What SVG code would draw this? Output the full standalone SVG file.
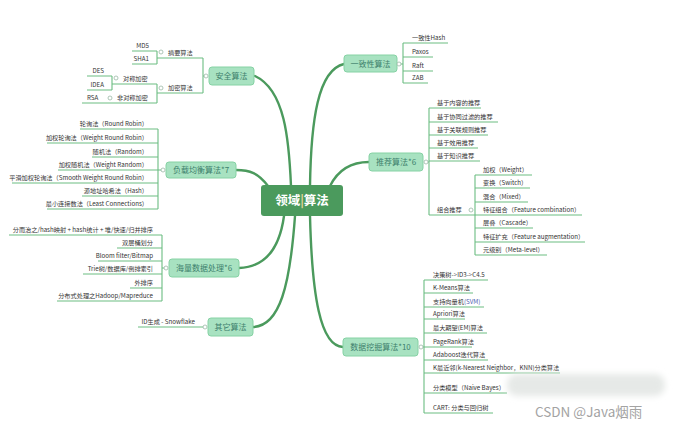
<svg xmlns="http://www.w3.org/2000/svg" width="673" height="430" viewBox="0 0 673 430">
<defs>
<style>
text{font-family:"Noto Sans CJK SC","Liberation Sans",sans-serif}
.lf{font-size:6.2px;fill:#333}
.e{text-anchor:end}
.ln{stroke:#6cbd82;stroke-width:1.1;fill:none}
.nd rect{fill:#a8e2c1;stroke:#86d2a4;stroke-width:1}
.nt{font-size:8px;fill:#3d7f6c;text-anchor:middle}
.ck{fill:#fff;stroke:#9bb8a6;stroke-width:0.8}
.br{stroke:#4b9a5d;stroke-width:2.4;fill:none;stroke-linecap:round}
</style>
<filter id="bl" x="-20%" y="-50%" width="140%" height="200%"><feGaussianBlur stdDeviation="3"/></filter>
</defs>
<rect width="673" height="430" fill="#fff"/>

<g id="connectors">
<path class="br" d="M291 186 C289 140 285 90 255 76"/>
<path class="br" d="M310 186 C311 120 318 70 344 64"/>
<path class="br" d="M268 186 C258 173 250 170 236 170"/>
<path class="br" d="M330 186 C338 170 350 162 369 162"/>
<path class="br" d="M284 216 C280 245 268 267 239 268"/>
<path class="br" d="M295 216 C290 285 280 326 253 327"/>
<path class="br" d="M310 216 C312 295 320 346 343 347"/>
</g>

<g id="center">
<rect x="261" y="185" width="82" height="31" rx="3" fill="#4b9a5d"/>
<text x="302" y="205" font-size="12.5" font-weight="bold" fill="#fff" text-anchor="middle">领域<tspan fill="#e6d59a">|</tspan>算法</text>
</g>

<!-- 安全算法 -->
<g id="n-security">
<path class="ln" d="M203 76 H206 M203 58 V93 M157 58 H203 M157 93 H203 M132 51 H157 M132 64 H157 M157 51 V64 M112 84 H157 M82 103 H157 M157 84 V103 M87 76 H112 M87 90 H112 M112 76 V90"/>
<g class="nd"><rect x="209" y="67" width="45" height="18" rx="3"/></g>
<text class="nt" x="231.5" y="79">安全算法</text>
<circle class="ck" cx="206" cy="76" r="2"/>
<text class="lf" x="168" y="54.5">摘要算法</text>
<circle class="ck" cx="161" cy="52" r="2"/>
<text class="lf e" x="149" y="47.5">MD5</text>
<text class="lf e" x="149" y="60.5">SHA1</text>
<text class="lf" x="168" y="89.5">加密算法</text>
<circle class="ck" cx="161" cy="88" r="2"/>
<text class="lf" x="123" y="80.5">对称加密</text>
<circle class="ck" cx="116" cy="78" r="2"/>
<text class="lf e" x="104" y="72.5">DES</text>
<text class="lf e" x="104" y="86.5">IDEA</text>
<text class="lf" x="117" y="99.5">非对称加密</text>
<circle class="ck" cx="110" cy="98" r="2"/>
<text class="lf" x="87" y="99.5">RSA</text>
</g>

<!-- 负载均衡 -->
<g id="n-loadbalance">
<path class="ln" d="M158 129 V209 M158 170 H163 M80 129 H158 M47 143 H158 M92 157 H158 M58 170 H158 M12 183 H158 M82 196 H158 M47 209 H158"/>
<g class="nd"><rect x="166" y="162" width="70" height="16" rx="3"/></g>
<text class="nt" x="201" y="173">负载均衡算法*7</text>
<circle class="ck" cx="163" cy="170" r="2"/>
<text class="lf e" x="148" y="125.5">轮询法（Round Robin）</text>
<text class="lf e" x="148" y="139.5">加权轮询法（Weight Round Robin）</text>
<text class="lf e" x="148" y="153.5">随机法（Random）</text>
<text class="lf e" x="148" y="166.5">加权随机法（Weight Random）</text>
<text class="lf e" x="148" y="179.5">平滑加权轮询法（Smooth Weight Round Robin）</text>
<text class="lf e" x="148" y="192.5">源地址哈希法（Hash）</text>
<text class="lf e" x="148" y="205.5">最小连接数法（Least Connections）</text>
</g>

<!-- 海量数据处理 -->
<g id="n-bigdata">
<path class="ln" d="M162 235 V301 M162 268 H166 M9 235 H162 M117 248 H162 M98 261 H162 M83 274 H162 M130 288 H162 M57 301 H162"/>
<g class="nd"><rect x="169" y="259" width="70" height="18" rx="3"/></g>
<text class="nt" x="204" y="271">海量数据处理*6</text>
<circle class="ck" cx="166" cy="268" r="2"/>
<text class="lf e" x="153" y="231.5">分而治之/hash映射 + hash统计 + 堆/快速/归并排序</text>
<text class="lf e" x="153" y="244.5">双层桶划分</text>
<text class="lf e" x="153" y="257.5">Bloom filter/Bitmap</text>
<text class="lf e" x="153" y="270.5">Trie树/数据库/倒排索引</text>
<text class="lf e" x="153" y="284.5">外排序</text>
<text class="lf e" x="153" y="297.5">分布式处理之Hadoop/Mapreduce</text>
</g>

<!-- 其它算法 -->
<g id="n-other">
<path class="ln" d="M138 327 H204"/>
<g class="nd"><rect x="208" y="318" width="45" height="18" rx="3"/></g>
<text class="nt" x="230.5" y="330">其它算法</text>
<circle class="ck" cx="205" cy="327" r="2"/>
<text class="lf e" x="195" y="323.5">ID生成 - Snowflake</text>
</g>

<!-- 一致性算法 -->
<g id="n-consistency">
<path class="ln" d="M401 64 H403 M403 43 V83 M403 43 H448 M403 57 H433 M403 71 H433 M403 83 H428"/>
<g class="nd"><rect x="344" y="55" width="53" height="17" rx="3"/></g>
<text class="nt" x="370.5" y="66.5">一致性算法</text>
<circle class="ck" cx="399" cy="64" r="2"/>
<text class="lf" x="412" y="39.5">一致性Hash</text>
<text class="lf" x="412" y="53.5">Paxos</text>
<text class="lf" x="412" y="67.5">Raft</text>
<text class="lf" x="412" y="79.5">ZAB</text>
</g>

<!-- 推荐算法 -->
<g id="n-recommend">
<path class="ln" d="M428 162 H429 M429 108 V215 M429 108 H481 M429 122 H498 M429 135 H488 M429 148 H478 M429 161 H480 M429 215 H475 M475 175 V255 M475 175 H532 M475 188 H530 M475 202 H528 M475 215 H582 M475 228 H533 M475 242 H585 M475 255 H547"/>
<g class="nd"><rect x="369" y="153" width="54" height="18" rx="3"/></g>
<text class="nt" x="396" y="165">推荐算法*6</text>
<circle class="ck" cx="426" cy="162" r="2"/>
<text class="lf" x="437" y="104.5">基于内容的推荐</text>
<text class="lf" x="437" y="118.5">基于协同过滤的推荐</text>
<text class="lf" x="437" y="131.5">基于关联规则推荐</text>
<text class="lf" x="437" y="144.5">基于效用推荐</text>
<text class="lf" x="437" y="157.5">基于知识推荐</text>
<text class="lf" x="437" y="211.5">组合推荐</text>
<circle class="ck" cx="471" cy="210" r="2"/>
<text class="lf" x="483" y="171.5">加权（Weight）</text>
<text class="lf" x="483" y="184.5">变换（Switch）</text>
<text class="lf" x="483" y="198.5">混合（Mixed）</text>
<text class="lf" x="483" y="211.5">特征组合（Feature combination）</text>
<text class="lf" x="483" y="224.5">层叠（Cascade）</text>
<text class="lf" x="483" y="238.5">特征扩充（Feature augmentation）</text>
<text class="lf" x="483" y="251.5">元级别（Meta-level）</text>
</g>

<!-- 数据挖掘算法 -->
<g id="n-datamining">
<path class="ln" d="M423 347 H424 M424 280 V413 M424 280 H488 M424 293 H473 M424 307 H484 M424 319 H465 M424 333 H487 M424 347 H472 M424 360 H488 M424 373 H560 M424 393 H507 M424 413 H493"/>
<g class="nd"><rect x="343" y="338" width="75" height="18" rx="3"/></g>
<text class="nt" x="380.5" y="350">数据挖掘算法*10</text>
<circle class="ck" cx="421" cy="347" r="2"/>
<text class="lf" x="433" y="276.5">决策树-&gt;ID3-&gt;C4.5</text>
<text class="lf" x="433" y="289.5">K-Means算法</text>
<text class="lf" x="433" y="303.5">支持向量机<tspan fill="#4a5cb0">(SVM)</tspan></text>
<text class="lf" x="433" y="315.5">Apriori算法</text>
<text class="lf" x="433" y="329.5">最大期望(EM)算法</text>
<text class="lf" x="433" y="343.5">PageRank算法</text>
<text class="lf" x="433" y="356.5">Adaboost迭代算法</text>
<text class="lf" x="433" y="369.5">K最近邻(k-Nearest Neighbor，KNN)分类算法</text>
<text class="lf" x="433" y="389.5">分类模型（Naive Bayes）</text>
<text class="lf" x="433" y="409.5">CART: 分类与回归树</text>
</g>

<g id="watermark">
<rect x="507" y="374" width="158" height="22" rx="10" fill="#e6e9e7" filter="url(#bl)"/>
<text x="535" y="417" font-size="13.5" fill="#a3a3a3" font-family="Liberation Sans,Noto Sans CJK SC,sans-serif">CSDN @Java烟雨</text>
</g>
</svg>
